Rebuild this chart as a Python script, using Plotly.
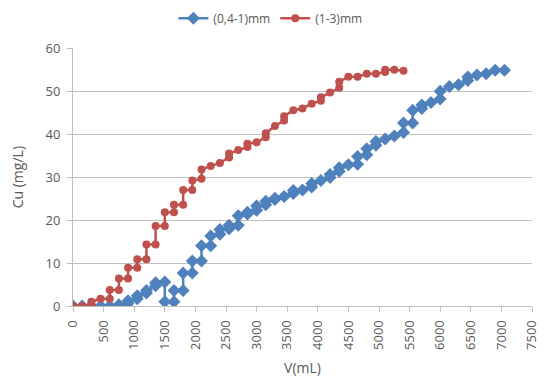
import plotly.graph_objects as go

# Fine fraction (0,4-1) mm: cumulative volume (mL) and Cu concentration (mg/L)
v_fine = [0, 150, 300, 450, 600, 750, 900, 900, 1050, 1050, 1200, 1200, 1350, 1350,
          1500, 1500, 1650, 1650, 1800, 1800, 1950, 1950, 2100, 2100, 2250, 2250,
          2400, 2400, 2550, 2550, 2700, 2700, 2850, 2850, 3000, 3000, 3150, 3150,
          3300, 3300, 3450, 3600, 3600, 3750, 3900, 3900, 4050, 4200, 4200, 4350, 4350,
          4500, 4650, 4650, 4800, 4800, 4950, 4950, 5100, 5250, 5400, 5400, 5550, 5550,
          5700, 5700, 5850, 6000, 6000, 6150, 6300, 6450, 6450, 6600, 6750, 6900, 7050]
cu_fine = [0, 0, 0, 0, 0, 0.3, 0.6, 1.2, 1.7, 2.4, 3.0, 3.6, 4.7, 5.4,
           5.6, 1.0, 1.0, 3.6, 3.6, 7.7, 7.7, 10.5, 10.5, 14.0, 14.0, 16.3,
           16.7, 17.8, 18.0, 18.8, 18.8, 21.0, 21.4, 21.8, 22.3, 23.3, 23.6, 24.4,
           24.8, 25.1, 25.5, 26.2, 26.9, 27.0, 27.7, 28.5, 29.2, 29.9, 30.6, 31.4, 32.2,
           32.9, 33.0, 34.8, 35.2, 36.6, 37.4, 38.3, 38.9, 39.6, 40.4, 42.6, 42.6, 45.6,
           46.0, 46.8, 47.4, 48.2, 50.0, 51.1, 51.5, 52.5, 53.3, 53.8, 54.1, 54.9, 54.9]

# Coarse fraction (1-3) mm
v_coarse = [0, 150, 300, 300, 450, 600, 600, 750, 750, 900, 900, 1050, 1050, 1200, 1200,
            1350, 1350, 1500, 1500, 1650, 1650, 1800, 1800, 1950, 1950, 2100, 2100,
            2250, 2400, 2550, 2550, 2700, 2850, 2850, 3000, 3150, 3150, 3300, 3450, 3450,
            3600, 3750, 3900, 4050, 4050, 4200, 4350, 4350, 4500, 4650, 4800, 4950,
            5100, 5100, 5250, 5400]
cu_coarse = [0, 0, 0.3, 1.0, 1.7, 1.7, 3.7, 3.7, 6.4, 6.4, 8.9, 8.9, 10.9, 10.9, 14.3,
             14.3, 18.6, 18.6, 21.8, 21.8, 23.6, 23.6, 27.0, 27.0, 29.2, 29.6, 31.8,
             32.6, 33.3, 34.6, 35.5, 36.3, 37.0, 37.8, 38.1, 39.3, 40.2, 41.9, 43.2, 44.2,
             45.6, 46.0, 47.1, 47.8, 48.6, 49.7, 50.8, 52.2, 53.4, 53.4, 54.1, 54.1,
             54.5, 55.0, 55.0, 54.8]

x_ticks = list(range(0, 7501, 500))
y_ticks = list(range(0, 61, 10))

BLUE = "#4F81BD"
RED = "#C0504D"
TXT = "#595959"
GRID = "#BFBFBF"
FONT = "Open Sans"

fig = go.Figure()
fig.add_trace(go.Scatter(
    x=v_fine, y=cu_fine, name="(0,4-1)mm", mode="lines+markers",
    line=dict(color=BLUE, width=2.5),
    marker=dict(symbol="diamond", size=10, color=BLUE),
))
fig.add_trace(go.Scatter(
    x=v_coarse, y=cu_coarse, name="(1-3)mm", mode="lines+markers",
    line=dict(color=RED, width=2.5),
    marker=dict(symbol="circle", size=8, color=RED),
))

fig.update_layout(
    width=546, height=386,
    margin=dict(l=73, r=6, t=37, b=80),
    paper_bgcolor="white", plot_bgcolor="white",
    font=dict(family=FONT, size=12, color=TXT),
    legend=dict(orientation="h", x=0.43, xanchor="center", y=0.99, yanchor="top",
                yref="container", font=dict(size=12, color=TXT),
                itemwidth=30, bgcolor="rgba(0,0,0,0)"),
    showlegend=True,
)

fig.update_xaxes(
    range=[0, 7500], tickvals=x_ticks, ticktext=[str(t) for t in x_ticks],
    tickangle=-90, showgrid=False, zeroline=False,
    showline=True, linecolor=GRID, linewidth=1,
    ticks="outside", ticklen=5, tickcolor=GRID,
    ticklabeloverflow="allow", ticklabelstandoff=3,
    title=dict(text="V(mL)", font=dict(size=14, color=TXT), standoff=14),
    tickfont=dict(size=13, color=TXT),
)
fig.update_yaxes(
    range=[0, 60], tickvals=y_ticks, showgrid=True, gridcolor=GRID, gridwidth=1,
    zeroline=False, showline=True, linecolor=GRID, linewidth=1,
    ticks="outside", ticklen=5, tickcolor=GRID, ticklabelstandoff=4,
    title=dict(text="Cu (mg/L)", font=dict(size=14, color=TXT), standoff=18),
    tickfont=dict(size=13, color=TXT),
)

fig.write_html("out.html")
